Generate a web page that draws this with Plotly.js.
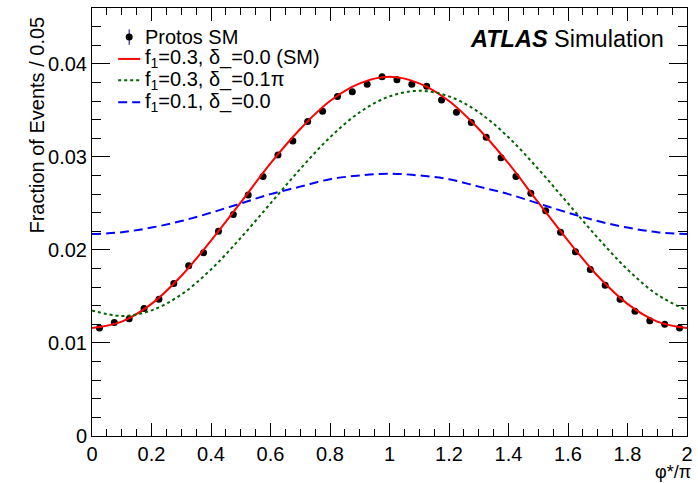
<!DOCTYPE html>
<html>
<head>
<meta charset="utf-8">
<script src="https://cdn.plot.ly/plotly-3.0.1.min.js"></script>
<style>html,body{margin:0;padding:0;background:#fff;}#chart{width:698px;height:483px;}</style>
</head>
<body>
<div id="chart"></div>
<script>
// Protos SM pseudo-data (bin centres, width 0.05)
var binCenters = [0.025,0.075,0.125,0.175,0.225,0.275,0.325,0.375,0.425,0.475,
                  0.525,0.575,0.625,0.675,0.725,0.775,0.825,0.875,0.925,0.975,
                  1.025,1.075,1.125,1.175,1.225,1.275,1.325,1.375,1.425,1.475,
                  1.525,1.575,1.625,1.675,1.725,1.775,1.825,1.875,1.925,1.975];
var protosSM = [0.0116,0.0122,0.0126,0.0137,0.0147,0.0164,0.0183,0.0197,0.0220,0.0238,
                0.0259,0.0279,0.0302,0.0317,0.0338,0.0349,0.0365,0.0370,0.0378,0.0386,
                0.0383,0.0378,0.0376,0.0361,0.0348,0.0337,0.0321,0.0299,0.0279,0.0261,
                0.0242,0.0219,0.0198,0.0179,0.0162,0.0147,0.0134,0.0124,0.0120,0.0116];
var protosErr = [0.0002,0.0002,0.0002,0.0002,0.0002,0.0002,0.0002,0.0002,0.0002,0.0002,
                 0.0002,0.0002,0.0002,0.0002,0.0002,0.0002,0.0002,0.0002,0.0002,0.0002,
                 0.0002,0.0002,0.0002,0.0002,0.0002,0.0002,0.0002,0.0002,0.0002,0.0002,
                 0.0002,0.0002,0.0002,0.0002,0.0002,0.0002,0.0002,0.0002,0.0002,0.0002];

// Model curves read at phi*/pi = 0, 0.1, ..., 2
var curveX = [0,0.1,0.2,0.3,0.4,0.5,0.6,0.7,0.8,0.9,1.0,1.1,1.2,1.3,1.4,1.5,1.6,1.7,1.8,1.9,2.0];
var smCurve = [0.0116,0.0123,0.0142,0.0172,0.0210,0.0251,0.0293,0.0330,0.0360,0.0379,0.0386,
               0.0379,0.0360,0.0330,0.0293,0.0251,0.0210,0.0172,0.0142,0.0123,0.0116];
var cpCurve = [0.0135,0.0129,0.0135,0.0152,0.0179,0.0213,0.0250,0.0287,0.0321,0.0348,0.0365,
               0.0371,0.0365,0.0348,0.0321,0.0287,0.0250,0.0213,0.0179,0.0152,0.0135];
var f01Curve = [0.0217,0.0219,0.0224,0.0231,0.0240,0.0250,0.0260,0.0268,0.0276,0.0280,0.0282,
                0.0280,0.0276,0.0268,0.0260,0.0250,0.0240,0.0231,0.0224,0.0219,0.0217];

var legendNames = ["Protos SM",
                   "f<sub>1</sub>=0.3, δ_=0.0 (SM)",
                   "f<sub>1</sub>=0.3, δ_=0.1π",
                   "f<sub>1</sub>=0.1, δ_=0.0"];
var xTicks = [0,0.2,0.4,0.6,0.8,1,1.2,1.4,1.6,1.8,2];
var xTickText = ["0","0.2","0.4","0.6","0.8","1","1.2","1.4","1.6","1.8","2"];
var yTicks = [0,0.01,0.02,0.03,0.04];
var yTickText = ["0","0.01","0.02","0.03","0.04"];

var font = "Liberation Sans, Arial, Helvetica, sans-serif";
var colors = ['#000000', '#ff0000', '#006400', '#0000ff'];
var dashes = ['solid', 'solid', '3px,3px', '9px,5px'];

var traces = [
  {x: binCenters, y: protosSM, type: 'scatter', mode: 'markers', name: legendNames[0],
   marker: {color: colors[0], size: 7},
   error_y: {type: 'data', array: protosErr, visible: true, color: '#00008b', thickness: 1, width: 0}},
  {x: curveX, y: smCurve, type: 'scatter', mode: 'lines', name: legendNames[1],
   line: {color: colors[1], width: 2, dash: dashes[1], shape: 'spline', smoothing: 1}},
  {x: curveX, y: cpCurve, type: 'scatter', mode: 'lines', name: legendNames[2],
   line: {color: colors[2], width: 2, dash: dashes[2], shape: 'spline', smoothing: 1}},
  {x: curveX, y: f01Curve, type: 'scatter', mode: 'lines', name: legendNames[3],
   line: {color: colors[3], width: 2, dash: dashes[3], shape: 'spline', smoothing: 1}}
];

// Compact ROOT-style legend drawn as annotations + shapes (paper coordinates)
var legY = [0.932, 0.881, 0.831, 0.780];
var legTextX = 0.085, legLineX0 = 0.044, legLineX1 = 0.081, legMarkX = 0.0625;
var annotations = [];
var shapes = [];
for (var i = 0; i < legendNames.length; i++) {
  annotations.push({xref: 'paper', yref: 'paper', x: legTextX, y: legY[i], xanchor: 'left', yanchor: 'middle',
    showarrow: false, text: legendNames[i], font: {family: font, size: 20, color: '#000'}});
  if (i === 0) {
    shapes.push({type: 'line', xref: 'paper', yref: 'paper', x0: legMarkX, x1: legMarkX,
      y0: legY[i] - 0.018, y1: legY[i] + 0.018, line: {color: '#00008b', width: 1}});
    shapes.push({type: 'circle', xref: 'paper', yref: 'paper', xsizemode: 'pixel', ysizemode: 'pixel',
      xanchor: legMarkX, yanchor: legY[i], x0: -3.5, x1: 3.5, y0: -3.5, y1: 3.5,
      fillcolor: '#000', line: {color: '#000', width: 0}});
  } else {
    shapes.push({type: 'line', xref: 'paper', yref: 'paper', x0: legLineX0, x1: legLineX1,
      y0: legY[i], y1: legY[i], line: {color: colors[i], width: 2, dash: dashes[i]}});
  }
}
annotations.push(
  {xref: 'paper', yref: 'paper', x: 0.964, y: 0.927, xanchor: 'right', yanchor: 'middle',
   showarrow: false, text: '<b><i>ATLAS</i></b> Simulation',
   font: {family: font, size: 23.5, color: '#000'}},
  {xref: 'paper', yref: 'paper', x: 1.008, y: -0.109, xanchor: 'right', yanchor: 'bottom',
   showarrow: false, borderpad: 0, text: 'φ*/π', font: {family: font, size: 18, color: '#000'}},
  {xref: 'paper', yref: 'paper', x: -0.093, y: 0.985, xanchor: 'center', yanchor: 'top',
   showarrow: false, textangle: -90, text: 'Fraction of Events / 0.05',
   font: {family: font, size: 20, color: '#000'}}
);

var layout = {
  width: 698, height: 483,
  margin: {l: 92, r: 11, t: 8, b: 47},
  paper_bgcolor: '#fff', plot_bgcolor: '#fff',
  font: {family: font, size: 20, color: '#000'},
  showlegend: false,
  xaxis: {range: [0, 2], tickvals: xTicks, ticktext: xTickText, ticks: 'inside', ticklen: 13,
          tickcolor: '#000', showgrid: false, zeroline: false, showline: true, linecolor: '#000',
          linewidth: 1, mirror: 'allticks',
          minor: {dtick: 0.05, ticks: 'inside', ticklen: 7, tickcolor: '#000', showgrid: false},
          tickfont: {family: font, size: 20, color: '#000'}},
  yaxis: {range: [0, 0.046], tickvals: yTicks, ticktext: yTickText, ticks: 'inside', ticklen: 18,
          tickcolor: '#000', showgrid: false, zeroline: false, showline: true, linecolor: '#000',
          linewidth: 1, mirror: 'allticks',
          minor: {dtick: 0.002, ticks: 'inside', ticklen: 9, tickcolor: '#000', showgrid: false},
          tickfont: {family: font, size: 20, color: '#000'}},
  annotations: annotations,
  shapes: shapes
};

Plotly.newPlot('chart', traces, layout, {displayModeBar: false, staticPlot: true});
</script>
</body>
</html>
